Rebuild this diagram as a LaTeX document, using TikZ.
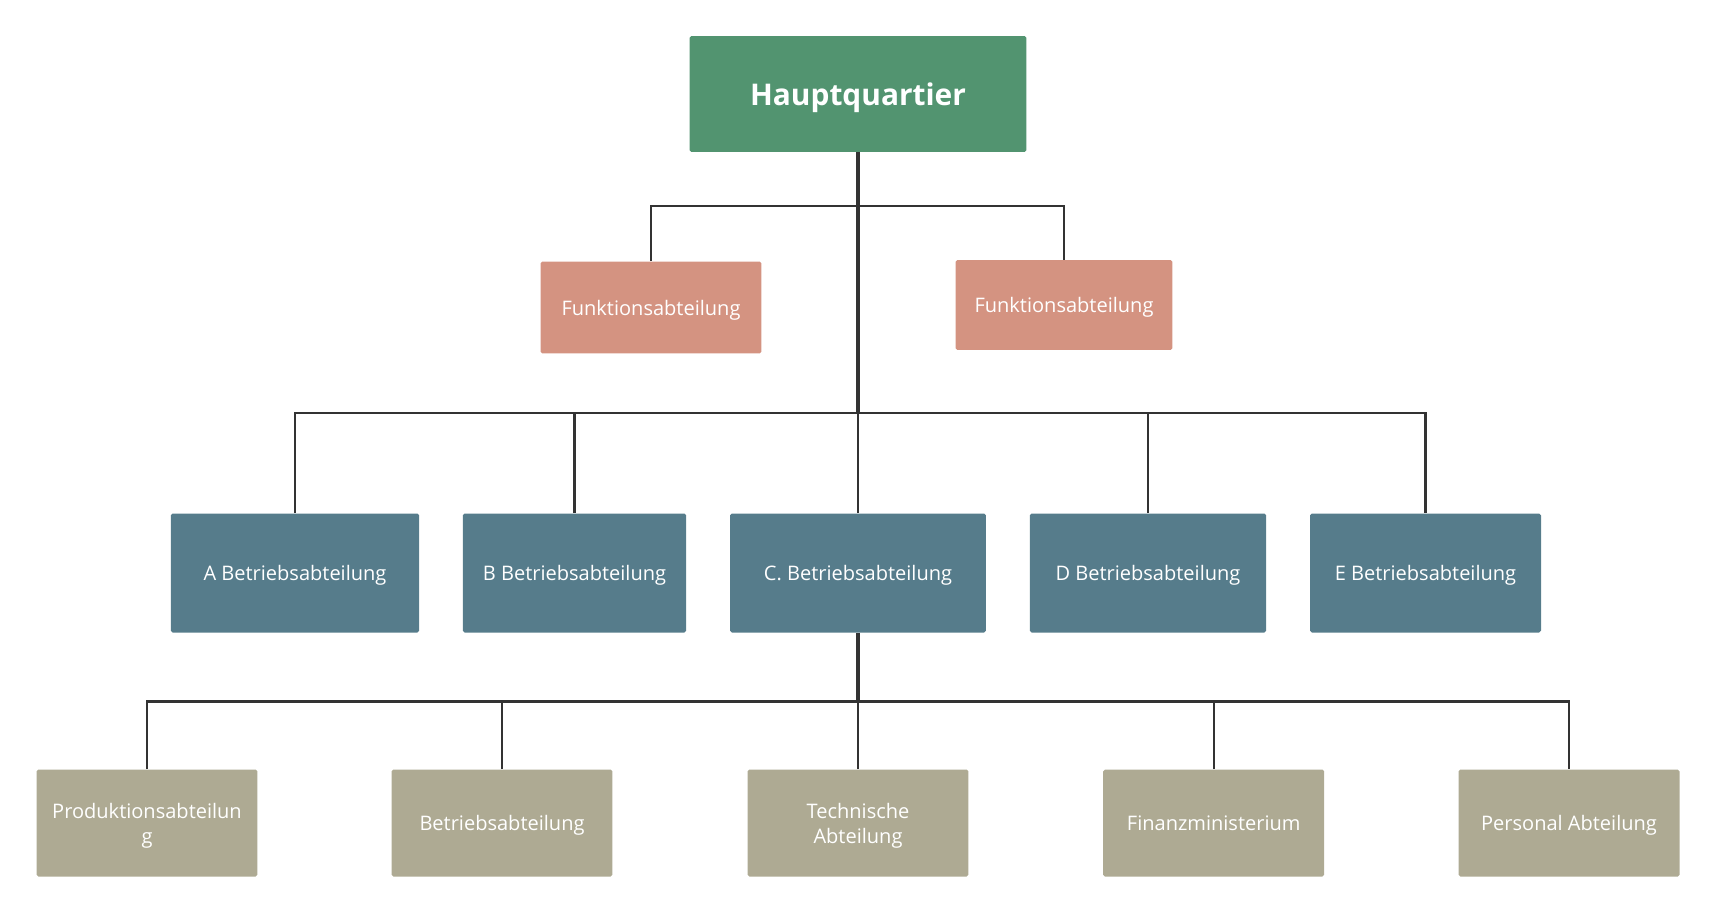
\documentclass[tikz,border=0pt]{standalone}
\usepackage{fontspec}
\setmainfont{Open Sans}
\usetikzlibrary{positioning}
\definecolor{hqgreen}{HTML}{529470}
\definecolor{funkrose}{HTML}{D49381}
\definecolor{betrblue}{HTML}{567C8B}
\definecolor{abtgrey}{HTML}{AEAA93}
\definecolor{linegrey}{HTML}{333333}

\begin{document}
\begin{tikzpicture}[x=0.02cm,y=-0.02cm,
	box/.style={rectangle,rounded corners=1pt,text=white,inner sep=0pt,align=center,
		text depth=0pt,font=\fontsize{11.4}{14.2}\selectfont},
	hqbox/.style={box,fill=hqgreen,minimum width=6.74cm,minimum height=2.32cm,
		font=\fontsize{17}{20}\selectfont\bfseries},
	funkbox/.style={box,fill=funkrose,minimum height=1.84cm},
	betrbox/.style={box,fill=betrblue,minimum height=2.38cm},
	abtbox/.style={box,fill=abtgrey,minimum width=4.42cm,minimum height=2.14cm},
	conn/.style={draw=linegrey,line width=1.2pt},
	trunk/.style={draw=linegrey,line width=2pt}]

	% frame
	\useasboundingbox (0,0) rectangle (1716,913);

	% Hauptquartier
	\node[hqbox] (hq) at (858,94) {Hauptquartier};

	% Funktionsabteilungen
	\node[funkbox,minimum width=4.42cm] (funkL) at (651,307.5) {Funktionsabteilung};
	\node[funkbox,minimum width=4.34cm,minimum height=1.8cm] (funkR) at (1064,305) {Funktionsabteilung};

	% Betriebsabteilungen
	\node[betrbox,minimum width=4.97cm] (betrA) at (295,573) {A Betriebsabteilung};
	\node[betrbox,minimum width=4.47cm] (betrB) at (574.5,573) {B Betriebsabteilung};
	\node[betrbox,minimum width=5.12cm] (betrC) at (858,573) {C. Betriebsabteilung};
	\node[betrbox,minimum width=4.73cm] (betrD) at (1148,573) {D Betriebsabteilung};
	\node[betrbox,minimum width=4.62cm] (betrE) at (1425.5,573) {E Betriebsabteilung};

	% Abteilungen unter C
	\node[abtbox] (prod) at (147,823) {Produktionsabteilun\\g};
	\node[abtbox] (betr) at (502,823) {Betriebsabteilung};
	\node[abtbox] (tech) at (858,823) {Technische\\Abteilung};
	\node[abtbox] (fin) at (1213.7,823) {Finanzministerium};
	\node[abtbox] (pers) at (1569,823) {Personal Abteilung};

	% Sammelschienen
	\coordinate (bus1) at (0,205.7);
	\coordinate (bus2) at (0,412.6);
	\coordinate (bus3) at (0,701.5);

	%%% Linien
	\draw[trunk] (hq.south) -- (hq.south |- bus2);
	\draw[conn] (funkL.north) -- (funkL.north |- bus1) -- (funkR.north |- bus1) -- (funkR.north);
	\draw[conn] (betrA.north) -- (betrA.north |- bus2) -- (betrE.north |- bus2) -- (betrE.north);
	\foreach \n in {betrB,betrC,betrD}
		\draw[conn] (\n.north) -- (\n.north |- bus2);
	\draw[trunk] (betrC.south) -- (betrC.south |- bus3);
	\draw[conn] (prod.north) -- (prod.north |- bus3) -- (pers.north |- bus3) -- (pers.north);
	\foreach \n in {betr,tech,fin}
		\draw[conn] (\n.north) -- (\n.north |- bus3);
\end{tikzpicture}
\end{document}
